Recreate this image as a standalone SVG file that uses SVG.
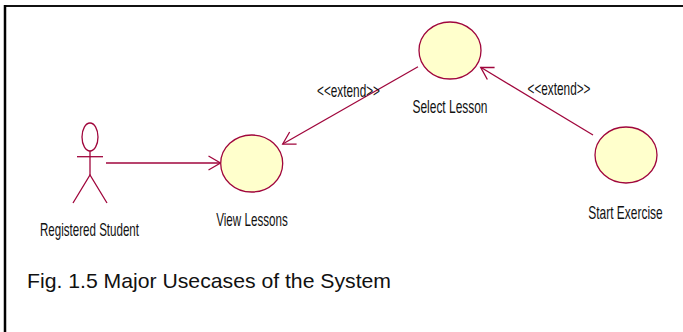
<svg xmlns="http://www.w3.org/2000/svg" width="683" height="332" viewBox="0 0 683 332">
<style>
.uc{fill:#FFFFCC;stroke:#A0063C;stroke-width:1.3}
.ln{fill:none;stroke:#A0063C;stroke-width:1.3}
.lbl{font-family:"Liberation Sans Narrow","Liberation Sans",Arial,sans-serif;font-size:18.5px;fill:#111;text-anchor:middle}
.cap{font-family:"Liberation Sans",Arial,sans-serif;font-size:21px;fill:#111}
</style>
<defs>
<marker id="open" viewBox="0 0 12 14" refX="12" refY="7" markerWidth="12" markerHeight="14" markerUnits="userSpaceOnUse" orient="auto" overflow="visible">
<path d="M0,0 L12,7 L0,14" fill="none" stroke="#A0063C" stroke-width="1.3"/>
</marker>
</defs>
<rect width="683" height="332" fill="#fff"/>
<g id="frame">
<line x1="4" y1="6" x2="683" y2="6" stroke="#111" stroke-width="2.2"/>
<line x1="5" y1="5" x2="5" y2="332" stroke="#000" stroke-width="2.5"/>
</g>
<g id="connectors">
<line class="ln" x1="106" y1="163" x2="220.5" y2="163" marker-end="url(#open)"/>
<line class="ln" x1="418" y1="66.7" x2="282.7" y2="144" marker-end="url(#open)"/>
<line class="ln" x1="593" y1="135" x2="480.7" y2="67.3" marker-end="url(#open)"/>
<text class="lbl" x="348.5" y="96.5" textLength="63" lengthAdjust="spacingAndGlyphs">&lt;&lt;extend&gt;&gt;</text>
<text class="lbl" x="559" y="94.5" textLength="63" lengthAdjust="spacingAndGlyphs">&lt;&lt;extend&gt;&gt;</text>
</g>
<g id="registered-student">
<ellipse class="ln" cx="90" cy="137" rx="8" ry="14"/>
<line class="ln" x1="77" y1="156.7" x2="103" y2="156.7" stroke-width="2"/>
<line class="ln" x1="90" y1="151" x2="90" y2="175"/>
<polyline class="ln" points="73,203 90,175 107,203"/>
<text class="lbl" x="89.5" y="235.5" textLength="99" lengthAdjust="spacingAndGlyphs">Registered Student</text>
</g>
<g id="view-lessons">
<ellipse class="uc" cx="251.7" cy="163.5" rx="31" ry="28.5"/>
<text class="lbl" x="252" y="226" textLength="71.5" lengthAdjust="spacingAndGlyphs">View Lessons</text>
</g>
<g id="select-lesson">
<ellipse class="uc" cx="450" cy="50.5" rx="31" ry="28.5"/>
<text class="lbl" x="450" y="113.3" textLength="75" lengthAdjust="spacingAndGlyphs">Select Lesson</text>
</g>
<g id="start-exercise">
<ellipse class="uc" cx="626" cy="155" rx="31" ry="28"/>
<text class="lbl" x="625.5" y="219" textLength="74.3" lengthAdjust="spacingAndGlyphs">Start Exercise</text>
</g>
<g id="caption">
<text class="cap" x="27" y="288" textLength="364" lengthAdjust="spacingAndGlyphs">Fig. 1.5 Major Usecases of the System</text>
</g>
</svg>
